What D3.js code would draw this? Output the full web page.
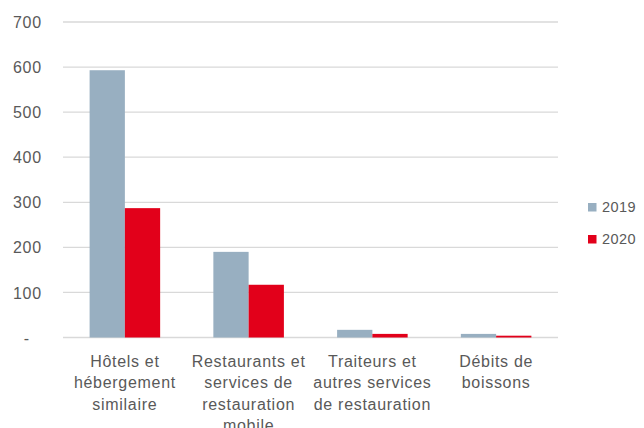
<!DOCTYPE html>
<html>
<head>
<meta charset="utf-8">
<script src="https://cdn.jsdelivr.net/npm/d3@7"></script>
<style>
  body { margin: 0; background: #fff; }
  text { font-family: "Liberation Sans", Arial, sans-serif; fill: #595959; }
</style>
</head>
<body>
<svg id="drawing_region"></svg>
<script>
const categories = [
    ["Hôtels et", "hébergement", "similaire"],
    ["Restaurants et", "services de", "restauration", "mobile"],
    ["Traiteurs et", "autres services", "de restauration"],
    ["Débits de", "boissons"]
];
const series = ["2019", "2020"];
const values2019 = [593, 190, 17, 8];
const values2020 = [287, 117, 8, 4];
const yticks = [0, 100, 200, 300, 400, 500, 600, 700];
const colors = ["#98afc1", "#e2001a"];

const width = 644, height = 428;
const margin = {top: 22, right: 86, bottom: 90, left: 63};

const svg = d3.select('#drawing_region')
    .attr('width', width)
    .attr('height', height);

const chart = svg.append('g')
    .attr('transform', `translate(${margin.left}, ${margin.top})`);

const inner_width = width - margin.left - margin.right;
const inner_height = height - margin.top - margin.bottom - 0.5;

const xscale = d3.scaleBand()
    .domain(d3.range(categories.length))
    .range([0, inner_width])
    .paddingInner(0.43)
    .paddingOuter(0.215);

const sub = d3.scaleBand()
    .domain(series)
    .range([0, xscale.bandwidth()]);

const yscale = d3.scaleLinear()
    .domain([0, 700])
    .range([inner_height, 0]);

// gridlines
chart.selectAll('.grid')
    .data(yticks)
    .enter()
    .append('line')
    .attr('x1', 0)
    .attr('x2', inner_width)
    .attr('y1', d => yscale(d))
    .attr('y2', d => yscale(d))
    .attr('stroke', '#d9d9d9')
    .attr('stroke-width', 1.3);

// y axis labels
const yaxis = d3.axisLeft(yscale)
    .tickValues(yticks)
    .tickFormat(d => d === 0 ? '-' : d)
    .tickSize(0)
    .tickPadding(21);
const yg = chart.append('g').call(yaxis);
yg.select('.domain').remove();
yg.selectAll('text')
    .style('font-size', '16px')
    .style('letter-spacing', '0.8px')
    .attr('fill', '#595959')
    .attr('dy', '0.35em')
    .attr('dx', d => d === 0 ? -12 : 0);

// bars
const rows = categories.map((c, i) => ({i, v: [values2019[i], values2020[i]]}));
const groups = chart.selectAll('.cat')
    .data(rows)
    .enter()
    .append('g')
    .attr('transform', d => `translate(${xscale(d.i)}, 0)`);

groups.selectAll('rect')
    .data(d => d.v.map((v, k) => ({k, v})))
    .enter()
    .append('rect')
    .attr('x', d => sub(series[d.k]))
    .attr('width', sub.bandwidth())
    .attr('y', d => yscale(d.v))
    .attr('height', d => yscale(0) - yscale(d.v))
    .attr('fill', d => colors[d.k]);

// category labels
groups.append('text')
    .attr('text-anchor', 'middle')
    .style('font-size', '16px')
    .style('letter-spacing', '0.7px')
    .attr('x', xscale.bandwidth() / 2)
    .selectAll('tspan')
    .data(d => categories[d.i])
    .enter()
    .append('tspan')
    .attr('x', xscale.bandwidth() / 2)
    .attr('y', (d, j) => inner_height + 29 + j * 21.5)
    .text(d => d);

// legend
const legend = svg.append('g')
    .attr('transform', 'translate(588, 207)');
const items = legend.selectAll('g')
    .data(series)
    .enter()
    .append('g')
    .attr('transform', (d, i) => `translate(0, ${i * 32})`);
items.append('rect')
    .attr('x', 0)
    .attr('y', -4)
    .attr('width', 8.5)
    .attr('height', 8.5)
    .attr('fill', (d, i) => colors[i]);
items.append('text')
    .attr('x', 14)
    .attr('dy', '0.37em')
    .style('font-size', '14.5px')
    .style('letter-spacing', '0.4px')
    .text(d => d);
</script>
</body>
</html>
